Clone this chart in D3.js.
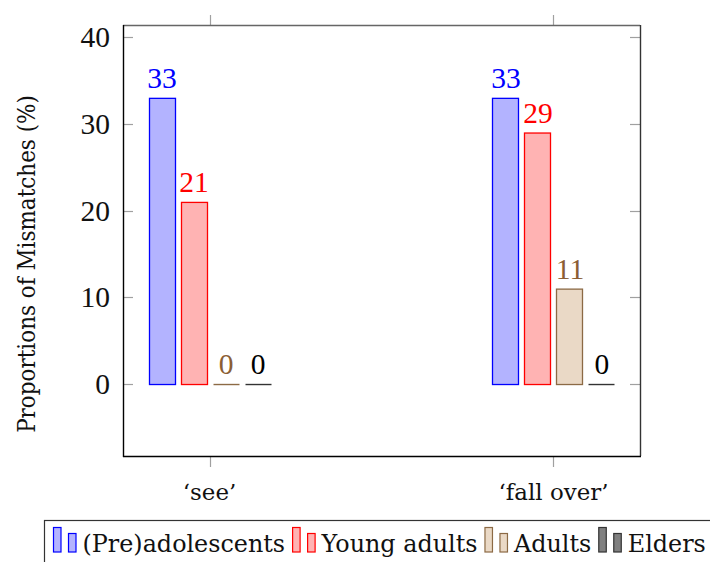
<!DOCTYPE html>
<html>
<head>
<meta charset="utf-8">
<script src="https://cdn.jsdelivr.net/npm/d3@7"></script>
<style>
  html, body { margin: 0; padding: 0; background: #fff; }
  svg { display: block; }
  .num { font-family: "Liberation Serif", "Times New Roman", serif; }
  .txt { font-family: "DejaVu Serif", serif; }
</style>
</head>
<body>
<svg id="chart" width="710" height="562"></svg>
<script>
// ---- data ----
const categories = ["\u2018see\u2019", "\u2018fall over\u2019"];
const seriesNames = ["(Pre)adolescents", "Young adults", "Adults", "Elders"];
const preadolescents = [33, 33];
const youngAdults = [21, 29];
const adults = [0, 11];
const elders = [0, 0];
const yTicks = [0, 10, 20, 30, 40];
const seriesValues = [preadolescents, youngAdults, adults, elders];

// ---- styles ----
const fills   = ["#b3b3ff", "#ffb3b3", "#ead9c6", "#808080"];
const strokes = ["#0000ff", "#ff0000", "#8c6a45", "#333333"];
const labelColors = ["#0000ff", "#ff0000", "#8b5e34", "#000000"];

const svg = d3.select("#chart");
const L = 123, R = 640, T = 25, B = 456;

function fitSize(sel, target) {
  sel.attr("font-size", 100);
  const w = sel.node().getComputedTextLength();
  sel.attr("font-size", 100 * target / w);
  return 100 * target / w;
}

const y = d3.scaleLinear().domain([-8.3, 41.4]).range([B, T]);
const x0 = d3.scalePoint().domain(categories).range([L, R]).padding(0.2515);
const x1 = d3.scaleBand().domain(seriesNames).range([-64, 64]).paddingInner(0.1875).paddingOuter(0.09375);

// ticks
const tickColor = "#a0a0a0";
const g = svg.append("g");
g.selectAll(".ytl").data(yTicks).enter().append("line")
  .attr("x1", L).attr("x2", L + 10)
  .attr("y1", d => Math.round(y(d)) + 0.5).attr("y2", d => Math.round(y(d)) + 0.5)
  .attr("stroke", tickColor).attr("stroke-width", 1.2);
g.selectAll(".ytr").data(yTicks).enter().append("line")
  .attr("x1", R - 10).attr("x2", R)
  .attr("y1", d => Math.round(y(d)) + 0.5).attr("y2", d => Math.round(y(d)) + 0.5)
  .attr("stroke", tickColor).attr("stroke-width", 1.2);
g.selectAll(".xtb").data(categories).enter().append("line")
  .attr("x1", d => Math.round(x0(d)) + 0.5).attr("x2", d => Math.round(x0(d)) + 0.5)
  .attr("y1", B).attr("y2", B + 11)
  .attr("stroke", tickColor).attr("stroke-width", 1.2);
g.selectAll(".xtt").data(categories).enter().append("line")
  .attr("x1", d => Math.round(x0(d)) + 0.5).attr("x2", d => Math.round(x0(d)) + 0.5)
  .attr("y1", T - 10).attr("y2", T)
  .attr("stroke", tickColor).attr("stroke-width", 1.2);

// y tick labels
g.selectAll(".ylab").data(yTicks).enter().append("text")
  .attr("class", "num")
  .attr("x", 110).attr("y", d => y(d) + 10)
  .attr("text-anchor", "end")
  .attr("font-size", 29.5).attr("fill", "#111")
  .text(d => d);

// x tick labels
const xTargets = [54, 109];
g.selectAll(".xlab").data(categories).enter().append("text")
  .attr("class", "txt xl")
  .attr("x", d => x0(d)).attr("y", 500)
  .attr("text-anchor", "middle")
  .attr("fill", "#111")
  .text(d => d)
  .each(function(d, i) { fitSize(d3.select(this), xTargets[i]); });
{
  const xl = g.selectAll("text.xl");
  const s = d3.mean(xl.nodes().map(n => +n.getAttribute("font-size")));
  xl.attr("font-size", s);
}

// y axis title (glyph height as in reference, slightly narrowed to its length)
const yt = svg.append("text")
  .attr("class", "txt")
  .attr("text-anchor", "middle")
  .attr("font-size", 25)
  .attr("fill", "#111")
  .text("Proportions of Mismatches (%)");
{
  const w = yt.node().getComputedTextLength();
  yt.attr("transform", `translate(35,264) rotate(-90) scale(${338 / w},1)`);
}

// bars
const data = [];
categories.forEach((c, ci) => {
  seriesNames.forEach((s, si) => {
    data.push({ c, s, si, v: seriesValues[si][ci] });
  });
});
const bars = svg.append("g");
bars.selectAll("rect").data(data.filter(d => d.v !== 0)).enter().append("rect")
  .attr("x", d => Math.round(x0(d.c) + x1(d.s)) + 0.5)
  .attr("y", d => y(Math.max(0, d.v)) + 0.5)
  .attr("width", x1.bandwidth())
  .attr("height", d => Math.abs(y(d.v) - y(0)))
  .attr("fill", d => fills[d.si])
  .attr("stroke", d => strokes[d.si])
  .attr("stroke-width", 1.3);
bars.selectAll("line").data(data.filter(d => d.v === 0)).enter().append("line")
  .attr("x1", d => Math.round(x0(d.c) + x1(d.s)) + 0.5)
  .attr("x2", d => Math.round(x0(d.c) + x1(d.s)) + 0.5 + x1.bandwidth())
  .attr("y1", y(0) + 0.5).attr("y2", y(0) + 0.5)
  .attr("stroke", d => strokes[d.si])
  .attr("stroke-width", 1.4);

bars.selectAll("text").data(data).enter().append("text")
  .attr("class", "num")
  .attr("x", d => x0(d.c) + x1(d.s) + x1.bandwidth() / 2 + 0.5)
  .attr("y", d => y(d.v) - 10)
  .attr("text-anchor", "middle")
  .attr("font-size", 29.5)
  .attr("fill", d => labelColors[d.si])
  .text(d => d.v);

// axis frame
svg.append("line").attr("x1", L).attr("x2", R).attr("y1", T + 0.5).attr("y2", T + 0.5).attr("stroke", "#666").attr("stroke-width", 1.4);
svg.append("line").attr("x1", R + 0.5).attr("x2", R + 0.5).attr("y1", T).attr("y2", B).attr("stroke", "#333").attr("stroke-width", 1.4);
svg.append("line").attr("x1", L + 0.5).attr("x2", L + 0.5).attr("y1", T).attr("y2", B + 1).attr("stroke", "#000").attr("stroke-width", 1.4);
svg.append("line").attr("x1", L).attr("x2", R + 1).attr("y1", B + 0.5).attr("y2", B + 0.5).attr("stroke", "#000").attr("stroke-width", 1.4);

// legend
const leg = svg.append("g");
leg.append("rect").attr("x", 44.5).attr("y", 520.5).attr("width", 700).attr("height", 60)
  .attr("fill", "#fff").attr("stroke", "#333").attr("stroke-width", 1.2);
const tmp = leg.append("text").attr("class", "txt").text(seriesNames.join(""));
const legSize = fitSize(tmp, 514);
tmp.remove();
let lx = 53;
seriesNames.forEach((s, i) => {
  leg.append("rect").attr("x", lx + 0.5).attr("y", 527.5).attr("width", 7.5).attr("height", 24.5)
    .attr("fill", fills[i]).attr("stroke", strokes[i]).attr("stroke-width", 1.2);
  leg.append("rect").attr("x", lx + 15.5).attr("y", 533.5).attr("width", 7.5).attr("height", 18.5)
    .attr("fill", fills[i]).attr("stroke", strokes[i]).attr("stroke-width", 1.2);
  const t = leg.append("text").attr("class", "txt").attr("x", lx + 29.5).attr("y", 552)
    .attr("font-size", legSize).attr("fill", "#111").text(s);
  lx = lx + 29.5 + t.node().getComputedTextLength() + 7;
});
</script>
</body>
</html>
